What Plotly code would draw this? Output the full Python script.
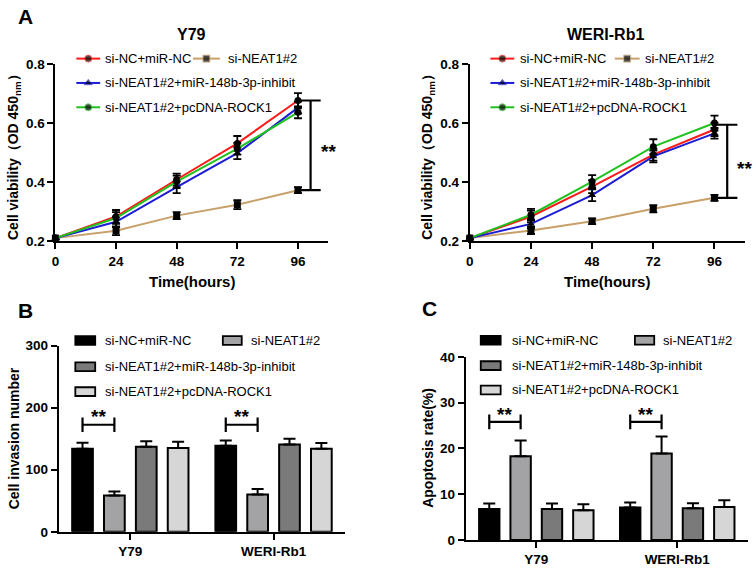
import plotly.graph_objects as go

W, H = 753, 571
FONT = "Liberation Sans, Arial, sans-serif"

# ---------------- data ----------------
hours = [0, 24, 48, 72, 96]
groups = ["si-NC+miR-NC", "si-NEAT1#2", "si-NEAT1#2+miR-148b-3p-inhibit", "si-NEAT1#2+pcDNA-ROCK1"]

# Panel A: Y79 cell viability (OD450)
y79_nc = [0.211, 0.284, 0.409, 0.531, 0.676]
y79_si = [0.211, 0.236, 0.287, 0.324, 0.373]
y79_inh = [0.211, 0.266, 0.383, 0.498, 0.652]
y79_rock = [0.211, 0.279, 0.402, 0.513, 0.636]
y79_nc_err = [0.004, 0.022, 0.020, 0.025, 0.025]
y79_si_err = [0.004, 0.015, 0.012, 0.015, 0.010]
y79_inh_err = [0.004, 0.018, 0.020, 0.020, 0.020]
y79_rock_err = [0.004, 0.020, 0.020, 0.020, 0.020]

# Panel A: WERI-Rb1 cell viability (OD450)
weri_nc = [0.211, 0.284, 0.385, 0.493, 0.578]
weri_si = [0.211, 0.237, 0.268, 0.310, 0.347]
weri_inh = [0.211, 0.259, 0.356, 0.487, 0.565]
weri_rock = [0.211, 0.290, 0.402, 0.520, 0.600]
weri_nc_err = [0.004, 0.020, 0.022, 0.020, 0.022]
weri_si_err = [0.004, 0.012, 0.010, 0.012, 0.010]
weri_inh_err = [0.004, 0.015, 0.020, 0.020, 0.018]
weri_rock_err = [0.004, 0.020, 0.022, 0.025, 0.025]

# Panel B: cell invasion number
cells = ["Y79", "WERI-Rb1"]
inv_nc = [134, 138.5]
inv_si = [58.5, 60]
inv_inh = [137, 140.6]
inv_rock = [135, 133.8]
inv_nc_err = [9.5, 8.5]
inv_si_err = [6.5, 9]
inv_inh_err = [9, 9.4]
inv_rock_err = [10, 9.2]

# Panel C: apoptosis rate (%)
apo_nc = [6.74, 7.1]
apo_si = [18.3, 18.9]
apo_inh = [6.74, 6.9]
apo_rock = [6.5, 7.2]
apo_nc_err = [1.2, 1.1]
apo_si_err = [3.4, 3.7]
apo_inh_err = [1.2, 1.1]
apo_rock_err = [1.3, 1.45]

line_colors = ["#ff1a1a", "#c8a06a", "#1c1cd6", "#1fc21f"]
line_symbols = ["circle", "square", "triangle-up", "circle"]
bar_colors = ["#000000", "#a3a3a6", "#7a7a7a", "#d6d6d6"]

# ---------------- helpers ----------------
def px(x):
    return x / W

def py(y):
    return 1 - y / H

def xd(a, b):
    return [a / W, b / W]

def yd(top, bottom):
    return [1 - bottom / H, 1 - top / H]

fig = go.Figure()

# ---------------- panel A lines ----------------
def add_lines(series, errs, xa, ya):
    for i, (vals, err) in enumerate(zip(series, errs)):
        fig.add_trace(go.Scatter(
            x=hours, y=vals, mode="lines+markers", name=groups[i],
            line=dict(color=line_colors[i], width=2),
            marker=dict(color="black", symbol=line_symbols[i], size=7),
            error_y=dict(type="data", array=err, color="black", thickness=1.8, width=4),
            xaxis=xa, yaxis=ya, showlegend=False, cliponaxis=False))

add_lines([y79_nc, y79_si, y79_inh, y79_rock],
          [y79_nc_err, y79_si_err, y79_inh_err, y79_rock_err], "x", "y")
add_lines([weri_nc, weri_si, weri_inh, weri_rock],
          [weri_nc_err, weri_si_err, weri_inh_err, weri_rock_err], "x2", "y2")

# ---------------- panels B, C bars ----------------
def add_bars(series, errs, xa, ya):
    for i, (vals, err) in enumerate(zip(series, errs)):
        fig.add_trace(go.Bar(
            x=cells, y=vals, name=groups[i],
            marker=dict(color=bar_colors[i], line=dict(color="black", width=2)),
            error_y=dict(type="data", array=err, arrayminus=[0] * len(err), symmetric=False,
                         color="black", thickness=2, width=6),
            xaxis=xa, yaxis=ya, showlegend=False))

add_bars([inv_nc, inv_si, inv_inh, inv_rock],
         [inv_nc_err, inv_si_err, inv_inh_err, inv_rock_err], "x3", "y3")
add_bars([apo_nc, apo_si, apo_inh, apo_rock],
         [apo_nc_err, apo_si_err, apo_inh_err, apo_rock_err], "x4", "y4")

BARGAP = 0.11
BARGROUPGAP = 0.35
slot = (1 - BARGAP) / 4
bar_off = [-(1 - BARGAP) / 2 + slot * (k + 0.5) for k in range(4)]

# ---------------- legends drawn in pixel coordinates on an overlay axis ----------------
shapes = []
annotations = []
LEG_SIZE = 13

def line_legend(x0, x1, xt, y, idx):
    fig.add_trace(go.Scatter(
        x=[x0, (x0 + x1) / 2, x1], y=[y, y, y], mode="lines+markers",
        line=dict(color=line_colors[idx], width=2),
        marker=dict(color="black", symbol=line_symbols[idx], size=[0, 7, 0]),
        xaxis="x5", yaxis="y5", showlegend=False, hoverinfo="skip"))
    annotations.append(dict(x=px(xt), y=py(y), xref="paper", yref="paper", text=groups[idx],
                            xanchor="left", yanchor="middle", showarrow=False,
                            font=dict(family=FONT, size=LEG_SIZE, color="black")))

def bar_legend(x0, x1, xt, y, idx):
    shapes.append(dict(type="rect", xref="x5", yref="y5", x0=x0, x1=x1, y0=y - 4.5, y1=y + 4.5,
                       fillcolor=bar_colors[idx], line=dict(color="black", width=1.8)))
    annotations.append(dict(x=px(xt), y=py(y), xref="paper", yref="paper", text=groups[idx],
                            xanchor="left", yanchor="middle", showarrow=False,
                            font=dict(family=FONT, size=LEG_SIZE, color="black")))

# A left legend
line_legend(72.7, 96.7, 100, 53, 0)
line_legend(190, 217, 223, 53, 1)
line_legend(72.7, 96.7, 100, 78, 2)
line_legend(72.7, 96.7, 100, 103, 3)
# A right legend
line_legend(489, 513, 517, 53, 0)
line_legend(614, 639, 642, 53, 1)
line_legend(489, 513, 517, 78, 2)
line_legend(489, 513, 517, 103, 3)
# B legend
bar_legend(71.7, 91.7, 100, 342.5, 0)
bar_legend(220, 239, 246.5, 342.5, 1)
bar_legend(71.7, 91.7, 100, 369.5, 2)
bar_legend(71.7, 91.7, 100, 395, 3)
# C legend
bar_legend(479.3, 499.3, 509, 342.3, 0)
bar_legend(634.3, 653.7, 661, 342.3, 1)
bar_legend(479.3, 499.3, 509, 368.3, 2)
bar_legend(479.3, 499.3, 509, 393.3, 3)

# ---------------- significance brackets ----------------
def vbracket(xa, ya, xc, y0, y1, half):
    shapes.append(dict(type="line", xref=xa, yref=ya, x0=xc, x1=xc, y0=y0, y1=y1,
                       line=dict(color="black", width=2.2)))
    for yy in (y0, y1):
        shapes.append(dict(type="line", xref=xa, yref=ya, x0=xc - half, x1=xc + half, y0=yy, y1=yy,
                           line=dict(color="black", width=2.2)))

vbracket("x", "y", 101, y79_si[-1], y79_nc[-1], 4)
vbracket("x2", "y2", 101, weri_si[-1], 0.594, 4)

def hbracket(xa, ya, xleft, xright, yc, half):
    shapes.append(dict(type="line", xref=xa, yref=ya, x0=xleft, x1=xright, y0=yc, y1=yc,
                       line=dict(color="black", width=2.2)))
    for xx in (xleft, xright):
        shapes.append(dict(type="line", xref=xa, yref=ya, x0=xx, x1=xx, y0=yc - half, y1=yc + half,
                           line=dict(color="black", width=2.2)))

for ci in range(2):
    hbracket("x3", "y3", ci + bar_off[0], ci + bar_off[1], 172.5, 11.5)
    hbracket("x4", "y4", ci + bar_off[0], ci + bar_off[1], 25.8, 1.6)

star_font = dict(family=FONT, size=19, color="black", weight="bold")
annotations.append(dict(x=px(326), y=py(148), xref="paper", yref="paper", text="**",
                        xanchor="center", yanchor="middle", showarrow=False, font=star_font))
annotations.append(dict(x=px(744), y=py(166), xref="paper", yref="paper", text="**",
                        xanchor="center", yanchor="middle", showarrow=False, font=star_font))
for ci in range(2):
    xc = ci + (bar_off[0] + bar_off[1]) / 2
    annotations.append(dict(x=xc, y=185, xref="x3", yref="y3", text="**",
                            xanchor="center", yanchor="middle", showarrow=False, font=star_font))
    annotations.append(dict(x=xc, y=27.4, xref="x4", yref="y4", text="**",
                            xanchor="center", yanchor="middle", showarrow=False, font=star_font))

# ---------------- titles / labels ----------------
def label(x, y, text, size, angle=0, bold=True, anchor="center"):
    annotations.append(dict(x=px(x), y=py(y), xref="paper", yref="paper", text=text,
                            xanchor=anchor, yanchor="middle", showarrow=False, textangle=angle,
                            font=dict(family=FONT, size=size, color="black",
                                      weight="bold" if bold else "normal")))

label(12, 10, "A", 21, anchor="left")
label(12, 312, "B", 21, anchor="left")
label(418, 310, "C", 21, anchor="left")
label(188, 28, "Y79", 16)
label(605, 28, "WERI-Rb1", 16)
label(189, 282, "Time(hours)", 15)
label(606.5, 282, "Time(hours)", 15)
label(10, 150, "Cell viability（OD 450<sub>nm</sub>）", 14, angle=-90)
label(426, 150, "Cell viability（OD 450<sub>nm</sub>）", 14, angle=-90)
label(10, 443, "Cell invasion number", 14, angle=-90)
label(426, 453, "Apoptosis rate(%)", 14, angle=-90)

# ---------------- axes ----------------
tickfont = dict(family=FONT, size=13.5, color="black", weight="bold")
common = dict(showline=True, linecolor="black", linewidth=2, ticks="outside", ticklen=6,
              tickwidth=2, tickcolor="black", showgrid=False, zeroline=False, tickfont=tickfont,
              fixedrange=True)

layout_axes = dict(
    xaxis=dict(domain=xd(51.7, 326), range=[0, 108], tickvals=hours, anchor="y", **common),
    yaxis=dict(domain=yd(58.3, 240.7), range=[0.2, 0.8], tickvals=[0.2, 0.4, 0.6, 0.8],
               tickformat=".1f", anchor="x", **common),
    xaxis2=dict(domain=xd(468.3, 745), range=[0, 108], tickvals=hours, anchor="y2", **common),
    yaxis2=dict(domain=yd(58.3, 240.7), range=[0.2, 0.8], tickvals=[0.2, 0.4, 0.6, 0.8],
                tickformat=".1f", anchor="x2", **common),
    xaxis3=dict(domain=xd(55, 343), type="category", range=[-0.5, 1.5], anchor="y3", **common),
    yaxis3=dict(domain=yd(347.7, 539), range=[0, 300], tickvals=[0, 100, 200, 300], anchor="x3", **common),
    xaxis4=dict(domain=xd(464.3, 747.7), type="category", range=[-0.5, 1.5], anchor="y4", **common),
    yaxis4=dict(domain=yd(359.3, 547.3), range=[0, 40], tickvals=[0, 10, 20, 30, 40], anchor="x4", **common),
    xaxis5=dict(domain=[0, 1], range=[0, W], visible=False, anchor="y5", fixedrange=True),
    yaxis5=dict(domain=[0, 1], range=[H, 0], visible=False, anchor="x5", fixedrange=True),
)

fig.update_layout(
    width=W, height=H, margin=dict(l=0, r=0, t=0, b=0),
    paper_bgcolor="white", plot_bgcolor="rgba(0,0,0,0)",
    barmode="group", bargap=BARGAP, bargroupgap=BARGROUPGAP,
    showlegend=False, shapes=shapes, annotations=annotations,
    font=dict(family=FONT, color="black"),
    **layout_axes)

fig.write_html("out.html", config={"displayModeBar": False},
               post_script="document.body.style.margin='0';document.body.style.padding='0';"
                           "document.documentElement.style.overflow='hidden';")
